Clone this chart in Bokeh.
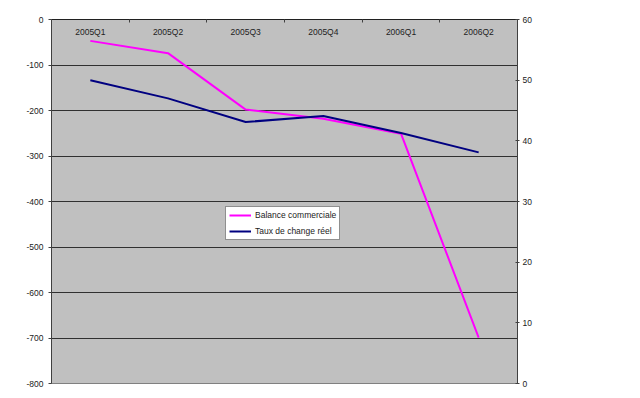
from bokeh.plotting import figure
from bokeh.models import (Range1d, LinearAxis, FixedTicker, Legend, LegendItem,
                          ColumnDataSource, NumeralTickFormatter)
from bokeh.core.properties import value
from bokeh.embed import file_html
from bokeh.resources import INLINE
import numpy as np

categories = ["2005Q1", "2005Q2", "2005Q3", "2005Q4", "2006Q1", "2006Q2"]
balance = [-47, -74, -198, -218, -251, -699]
taux = [50.0, 47.0, 43.1, 44.1, 41.3, 38.1]
left_ticks = [0, -100, -200, -300, -400, -500, -600, -700, -800]
right_ticks = [0, 10, 20, 30, 40, 50, 60]

FONT = "Liberation Sans"
FS = "8.5px"
TXT = "#222222"

xpos = list(np.arange(len(categories)) + 0.5)
src = ColumnDataSource(dict(x=xpos, cat=categories, bal=balance, taux=taux,
                            y0=[0] * len(categories)))

p = figure(width=640, height=398, output_backend="svg", toolbar_location=None,
           x_range=Range1d(0, len(categories)), y_range=Range1d(-800, 0),
           min_border_left=51, min_border_right=123, min_border_top=19, min_border_bottom=15,
           background_fill_color="#C0C0C0", border_fill_color="white",
           x_axis_location=None, y_axis_location=None)
p.outline_line_color = "#808080"
p.extra_y_ranges = {"right": Range1d(0, 60)}

# left axis
ly = LinearAxis(ticker=FixedTicker(ticks=left_ticks), formatter=NumeralTickFormatter(format="0"))
ly.axis_line_color = "#404040"
ly.major_tick_line_color = "#404040"
ly.major_tick_in = 0
ly.major_tick_out = 3
ly.minor_tick_line_color = None
ly.major_label_standoff = 5
ly.major_label_text_font = FONT
ly.major_label_text_font_size = FS
ly.major_label_text_color = TXT
p.add_layout(ly, "left")

# right axis
ry = LinearAxis(y_range_name="right", ticker=FixedTicker(ticks=right_ticks),
                formatter=NumeralTickFormatter(format="0"))
ry.axis_line_color = "#404040"
ry.major_tick_line_color = "#404040"
ry.major_tick_in = 2
ry.major_tick_out = 2
ry.minor_tick_line_color = None
ry.major_label_standoff = 3
ry.major_label_text_font = FONT
ry.major_label_text_font_size = FS
ry.major_label_text_color = TXT
p.add_layout(ry, "right")

# top category axis (ticks at category boundaries, labels drawn inside)
bounds = list(range(len(categories) + 1))
tx = LinearAxis(ticker=FixedTicker(ticks=bounds))
tx.axis_line_color = "#202020"
tx.major_tick_line_color = "#404040"
tx.major_tick_in = 3
tx.major_tick_out = 0
tx.minor_tick_line_color = None
tx.major_label_overrides = {b: "" for b in bounds}
tx.major_label_standoff = 0
p.add_layout(tx, "above")

p.ygrid.ticker = FixedTicker(ticks=left_ticks)
p.ygrid.grid_line_color = "#303030"
p.ygrid.grid_line_width = 1
p.xgrid.grid_line_color = None

p.text(x="x", y="y0", text="cat", source=src, text_font=value(FONT),
       text_font_size=FS, text_color=TXT, text_align="center",
       text_baseline="middle", y_offset=12.5)

r1 = p.line("x", "bal", source=src, line_color="#FF00FF", line_width=2)
r2 = p.line("x", "taux", source=src, line_color="#000080", line_width=2, y_range_name="right")

legend = Legend(items=[LegendItem(label="Balance commerciale", renderers=[r1]),
                       LegendItem(label="Taux de change réel", renderers=[r2])],
                location=(174, 143))
legend.background_fill_color = "white"
legend.background_fill_alpha = 1
legend.border_line_color = "#202020"
legend.border_line_width = 1
legend.label_text_font = FONT
legend.label_text_font_size = FS
legend.label_text_color = TXT
legend.glyph_width = 22
legend.glyph_height = 10
legend.label_height = 10
legend.label_standoff = 4
legend.spacing = 6
legend.padding = 3
legend.margin = 0
p.add_layout(legend, "center")

open("out.html", "w").write(file_html(p, INLINE))
